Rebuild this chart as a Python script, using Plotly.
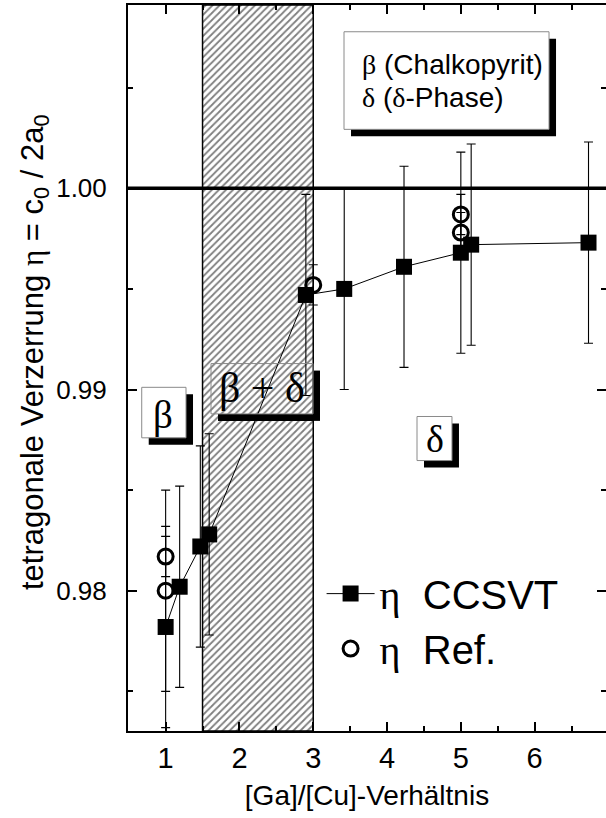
import plotly.graph_objects as go

# ---- measured tetragonal distortion eta = c0 / 2a0 versus [Ga]/[Cu] ratio ----
ccsvt_ratio = [1.00, 1.19, 1.47, 1.59, 2.90, 3.42, 4.23, 5.00, 5.14, 6.73]
ccsvt_eta = [0.9782, 0.9802, 0.9822, 0.9828, 0.9947, 0.9950, 0.9961, 0.9968, 0.9972, 0.9973]
ccsvt_err = [0.005, 0.005, 0.005, 0.005, 0.005, 0.005, 0.005, 0.005, 0.005, 0.005]

ref_ratio = [1.00, 1.00, 3.00, 5.00, 5.00]
ref_eta = [0.9800, 0.9817, 0.9952, 0.9978, 0.9987]
ref_err = [0.005, 0.001, 0.001, 0.001, 0.001]

# two-phase (beta + delta) region along the ratio axis
two_phase = [1.5, 3.0]
# ideal cubic value of eta
eta_cubic = 1.0

x_ticks = [1, 2, 3, 4, 5, 6]
y_ticks = [0.98, 0.99, 1.00]

X_RANGE = [0.49, 6.967]
Y_RANGE = [0.97303, 1.00911]

W, H = 606, 818
M = dict(l=128, r=0, t=5, b=87)

SANS = "Liberation Sans, Arial, sans-serif"
SERIF = "Liberation Serif, Times New Roman, serif"


def greek(s):
    return f"<span style='font-family:{SERIF}'>{s}</span>"


# data units per pixel (for shadow offsets of the label boxes)
px_x = (X_RANGE[1] - X_RANGE[0]) / (W - M["l"] - M["r"])
px_y = (Y_RANGE[1] - Y_RANGE[0]) / (H - M["t"] - M["b"])
SHADOW = 7

fig = go.Figure()

# hatched two-phase band
fig.add_trace(go.Bar(
    x=[(two_phase[0] + two_phase[1]) / 2],
    y=[Y_RANGE[1] - Y_RANGE[0]],
    base=[Y_RANGE[0]],
    width=[two_phase[1] - two_phase[0]],
    marker=dict(color="white", line=dict(color="black", width=1.5),
                pattern=dict(shape="/", fgcolor="black", bgcolor="white",
                             size=5, solidity=0.36)),
    showlegend=False, hoverinfo="skip",
))

fig.add_trace(go.Scatter(
    x=ccsvt_ratio, y=ccsvt_eta, mode="lines+markers",
    name=f"{greek('η')}  CCSVT",
    line=dict(color="black", width=1),
    marker=dict(symbol="square", size=16, color="black"),
    error_y=dict(type="data", array=ccsvt_err, visible=True,
                 color="black", thickness=1.1, width=4.5),
))

fig.add_trace(go.Scatter(
    x=ref_ratio, y=ref_eta, mode="markers", yaxis="y2",
    name=f"{greek('η')}  Ref.",
    marker=dict(symbol="circle-open", size=15, color="black",
                line=dict(color="black", width=3)),
    error_y=dict(type="data", array=ref_err, visible=True,
                 color="black", thickness=1.1, width=4.5),
))

shapes = [dict(type="line", xref="paper", x0=0, x1=1, yref="y",
               y0=eta_cubic, y1=eta_cubic, layer="above",
               line=dict(color="black", width=3.5))]
annotations = []

# label boxes: (x_left, x_right, y_bottom, y_top, filled)
boxes = [
    (3.417, 6.195, 1.00293, 1.00778, True),
    (0.676, 1.276, 0.98760, 0.99011, True),
    (1.615, 2.997, 0.98879, 0.99129, False),
    (4.406, 4.880, 0.98647, 0.98866, True),
]
dx, dy = SHADOW * px_x, SHADOW * px_y
for xl, xr, yb, yt, filled in boxes:
    if filled:
        shapes.append(dict(type="rect", xref="x", yref="y", layer="above",
                           x0=xl + dx, x1=xr + dx, y0=yb - dy, y1=yt - dy,
                           fillcolor="black", line=dict(width=0)))
    else:
        shapes.append(dict(type="rect", xref="x", yref="y", layer="above",
                           x0=xr, x1=xr + dx, y0=yb - dy, y1=yt - dy,
                           fillcolor="black", line=dict(width=0)))
        shapes.append(dict(type="rect", xref="x", yref="y", layer="above",
                           x0=xl + dx, x1=xr, y0=yb - dy, y1=yb,
                           fillcolor="black", line=dict(width=0)))
    shapes.append(dict(type="rect", xref="x", yref="y", layer="above",
                       x0=xl, x1=xr, y0=yb, y1=yt,
                       fillcolor="white" if filled else "rgba(0,0,0,0)",
                       line=dict(color="#8a8a8a", width=1)))

annotations += [
    dict(x=3.627, y=1.00613, xref="x", yref="y", xanchor="left", yanchor="middle",
         text=f"{greek('β')} (Chalkopyrit)", showarrow=False,
         font=dict(family=SANS, size=28, color="black")),
    dict(x=3.627, y=1.00449, xref="x", yref="y", xanchor="left", yanchor="middle",
         text=f"{greek('δ')} ({greek('δ')}-Phase)", showarrow=False,
         font=dict(family=SANS, size=28, color="black")),
    dict(x=0.964, y=0.98871, xref="x", yref="y", text=greek("β"), showarrow=False,
         font=dict(family=SERIF, size=39, color="black")),
    dict(x=2.306, y=0.99010, xref="x", yref="y", text=greek("β + δ"), showarrow=False,
         font=dict(family=SERIF, size=42, color="black")),
    dict(x=4.650, y=0.98756, xref="x", yref="y", text=greek("δ"), showarrow=False,
         font=dict(family=SERIF, size=38, color="black")),
    # y-axis title, placed beside the tick labels
    dict(x=0, xref="paper", xshift=-93, y=0.522, yref="paper",
         xanchor="center", yanchor="middle", textangle=-90, showarrow=False,
         text=f"tetragonale Verzerrung {greek('η')} = c<sub>0</sub> / 2a<sub>0</sub>",
         font=dict(family=SANS, size=31, color="black")),
]

fig.update_layout(
    width=W, height=H, margin=M,
    paper_bgcolor="white", plot_bgcolor="white",
    font=dict(family=SANS, color="black"),
    showlegend=True,
    legend=dict(x=0.405, y=0.234, xanchor="left", yanchor="top",
                bgcolor="rgba(0,0,0,0)", borderwidth=0,
                font=dict(family=SANS, size=40, color="black"),
                itemwidth=48, tracegroupgap=0),
    xaxis=dict(range=X_RANGE, tickvals=x_ticks, ticks="inside", ticklen=9,
               tickwidth=2, tickcolor="black", showline=True, linewidth=2,
               linecolor="black", mirror="ticks", showgrid=False, zeroline=False,
               tickfont=dict(family=SANS, size=29), ticklabelstandoff=0,
               minor=dict(ticks="inside", ticklen=5, tickwidth=1.5,
                          tickcolor="black", dtick=0.5, tick0=0.5),
               title=dict(text="[Ga]/[Cu]-Verhältnis",
                          font=dict(family=SANS, size=28), standoff=13)),
    yaxis=dict(range=Y_RANGE, tickvals=y_ticks, tickformat=".2f", ticks="inside",
               ticklen=9, tickwidth=2, tickcolor="black", showline=True,
               linewidth=2, linecolor="black", mirror=False, showgrid=False,
               zeroline=False, tickfont=dict(family=SANS, size=26),
               ticklabelstandoff=14,
               minor=dict(ticks="inside", ticklen=5, tickwidth=1.5,
                          tickcolor="black", dtick=0.005, tick0=0.975)),
    yaxis2=dict(range=Y_RANGE, overlaying="y", side="right", anchor="x",
                tickvals=y_ticks, ticks="inside", ticklen=9, tickwidth=2,
                tickcolor="black", showline=False, showgrid=False,
                zeroline=False, showticklabels=False,
                minor=dict(ticks="inside", ticklen=5, tickwidth=1.5,
                           tickcolor="black", dtick=0.005, tick0=0.975)),
    shapes=shapes,
    annotations=annotations,
)

fig.write_html("out.html")
